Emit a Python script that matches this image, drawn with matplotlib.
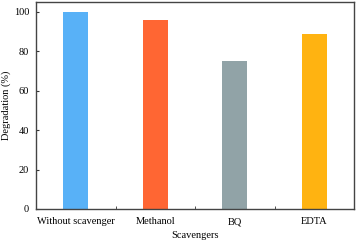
import matplotlib.pyplot as plt

categories = ["Without scavenger", "Methanol", "BQ", "EDTA"]
degradation = [100, 96, 75, 89]
colors = ["#58B1F7", "#FF6633", "#91A3A7", "#FFB311"]

plt.rcParams["font.family"] = "Liberation Serif"
plt.rcParams["font.size"] = 7.5

fig = plt.figure(figsize=(3.56, 2.41), dpi=100)
ax = fig.add_axes([36 / 356, 1 - 209 / 241, 318 / 356, 207 / 241])

x = range(len(categories))
ax.bar(x, degradation, width=0.31, color=colors)

ax.set_xlim(-0.5, 3.5)
ax.set_ylim(0, 105)
ax.set_yticks([0, 20, 40, 60, 80, 100])
ax.set_xticks(list(x))
ax.set_xticklabels(categories)
ax.set_xticks([0.5, 1.5, 2.5], minor=True)
ax.tick_params(axis="x", which="major", length=0, pad=6)
ax.tick_params(axis="x", which="minor", direction="in", length=2.5, color="#333333")
ax.tick_params(axis="y", direction="in", length=2.5, color="#333333", pad=5)

for s in ax.spines.values():
    s.set_color("#444444")
    s.set_linewidth(1.0)

ax.set_xlabel("Scavengers", labelpad=3)
ax.set_ylabel("Degradation (%)", labelpad=2)

fig.savefig("out.png", dpi=100)
